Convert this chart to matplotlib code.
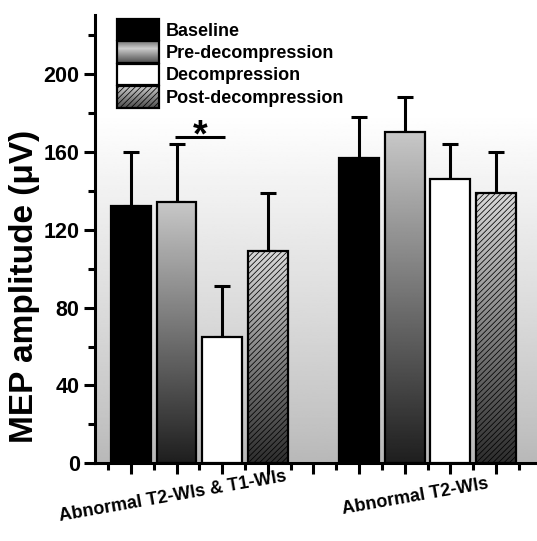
import matplotlib
matplotlib.use('Agg')
import matplotlib.pyplot as plt
import numpy as np
from matplotlib.legend_handler import HandlerBase
from matplotlib.image import BboxImage
from matplotlib.transforms import Bbox, TransformedBbox, blended_transform_factory
from matplotlib.patches import Rectangle
from matplotlib.colors import Normalize
from matplotlib.ticker import MultipleLocator

plt.rcParams['font.family'] = ['Liberation Sans', 'DejaVu Sans']
plt.rcParams['font.weight'] = 'bold'
plt.rcParams['hatch.linewidth'] = 0.55

# ---- data ----
groups = ['Abnormal T2-WIs & T1-WIs', 'Abnormal T2-WIs']
series = ['Baseline', 'Pre-decompression', 'Decompression', 'Post-decompression']
baseline = [132, 157]
baseline_err = [28, 21]
pre = [134, 170]
pre_err = [30, 18]
decomp = [65, 146]
decomp_err = [26, 18]
post = [109, 139]
post_err = [30, 21]
y_ticks = [0, 40, 80, 120, 160, 200]
sig_label = '*'

values = [baseline, pre, decomp, post]
errors = [baseline_err, pre_err, decomp_err, post_err]
styles = ['black', 'grad', 'white', 'gradhatch']

fig = plt.figure(figsize=(5.37, 5.41), dpi=100)
ax = fig.add_axes([95/537, 1-463.3/541, 1-95/537, (463.3-15)/541])
XL = (0.21, 9.9)
YL = (0, 230.3)

# background gradient
yy = np.linspace(0, 1, 256)
t = np.clip(yy/0.78, 0, 1)
bg = (0.72 + 0.28*t**0.85)[:, None]
ax.imshow(bg, extent=(0, 1, 0, 1), transform=ax.transAxes, cmap='gray',
          norm=Normalize(0, 1), aspect='auto', origin='lower', zorder=0,
          interpolation='bilinear')

def grad_arr(top, bottom, n=256):
    return np.linspace(top, bottom, n)[:, None]

width = 0.87
for i, (vals, errs, st) in enumerate(zip(values, errors, styles)):
    xs = np.array([g*5 + i + 1 for g in range(len(groups))], dtype=float)
    vals = np.array(vals, dtype=float)
    if st == 'black':
        ax.bar(xs, vals, width=width, facecolor='black', edgecolor='black', linewidth=1.6, zorder=3)
    elif st == 'white':
        ax.bar(xs, vals, width=width, facecolor='white', edgecolor='black', linewidth=1.6, zorder=3)
    else:
        if st == 'grad':
            arr = grad_arr(0.78, 0.12)
            hatch = None
        else:
            arr = grad_arr(0.85, 0.18)
            hatch = '//////'
        for x, v in zip(xs, vals):
            ax.imshow(arr, extent=(x - width/2, x + width/2, 0, v), cmap='gray',
                      norm=Normalize(0, 1), aspect='auto', origin='upper', zorder=2.5,
                      interpolation='bilinear')
        ax.bar(xs, vals, width=width, facecolor='none', edgecolor='black', linewidth=1.6,
               hatch=hatch, zorder=3)
    ax.errorbar(xs, vals, yerr=[np.zeros_like(vals), np.array(errs, dtype=float)], fmt='none',
                ecolor='black', elinewidth=2.2, capsize=5.5, capthick=2.2, zorder=2)

ax.set_xlim(*XL)
ax.set_ylim(*YL)

# significance
ax.plot([1.96, 3.06], [167.5, 167.5], color='black', lw=2.2, zorder=4, solid_capstyle='butt')
ax.text(2.51, 163.0, sig_label, ha='center', va='baseline', fontsize=27, fontweight='bold', zorder=4)

# axes styling
for s in ['top', 'right']:
    ax.spines[s].set_visible(False)
for s in ['left', 'bottom']:
    ax.spines[s].set_linewidth(2.2)
ax.set_yticks(y_ticks)
ax.yaxis.set_minor_locator(MultipleLocator(20))
ax.set_xticks(range(1, 10))
ax.set_xticklabels([])
ax.xaxis.set_minor_locator(MultipleLocator(0.5))
ax.tick_params(axis='both', which='major', direction='out', length=8, width=2.2)
ax.tick_params(axis='both', which='minor', direction='out', length=5, width=2.2)
ax.tick_params(axis='y', labelsize=15.5, pad=3)
for lab in ax.get_yticklabels():
    lab.set_fontweight('bold')

ax.set_ylabel('MEP amplitude (\u03bcV)', fontsize=24, fontweight='bold')
ax.yaxis.set_label_coords(-0.125, 0.395)

tr = blended_transform_factory(ax.transData, ax.transAxes)
label_x = [1.92, 7.23]
for gx, name in zip(label_x, groups):
    ax.text(gx, -0.075, name, transform=tr, rotation=10, ha='center', va='center',
            rotation_mode='anchor', fontsize=13, fontweight='bold')

# legend
class GradHandler(HandlerBase):
    def __init__(self, arr, hatch=None):
        super().__init__()
        self.arr = arr
        self.hatch = hatch

    def create_artists(self, legend, orig_handle, xdescent, ydescent, width, height, fontsize, trans):
        bb = Bbox.from_bounds(-xdescent, -ydescent, width, height)
        im = BboxImage(TransformedBbox(bb, trans), cmap='gray', norm=Normalize(0, 1),
                       interpolation='bilinear', origin='upper')
        im.set_data(self.arr)
        rect = Rectangle((-xdescent, -ydescent), width, height, facecolor='none',
                         edgecolor='black', lw=1.6, hatch=self.hatch, transform=trans)
        return [im, rect]

h_black = Rectangle((0, 0), 1, 1, facecolor='black', edgecolor='black', lw=1.6)
h_grad = Rectangle((0, 0), 1, 1)
h_white = Rectangle((0, 0), 1, 1, facecolor='white', edgecolor='black', lw=1.6)
h_hatch = Rectangle((0, 0), 1, 1)
leg_grad = np.concatenate([np.linspace(0.45, 0.8, 40), np.linspace(0.8, 0.3, 80)])[:, None]
leg = ax.legend([h_black, h_grad, h_white, h_hatch], series,
                handler_map={h_grad: GradHandler(leg_grad),
                             h_hatch: GradHandler(grad_arr(0.8, 0.3), hatch='//////')},
                loc='upper left', bbox_to_anchor=(0.0498, 0.991), frameon=False,
                handlelength=2.33, handleheight=1.45, labelspacing=0.05,
                handletextpad=0.35, borderpad=0, borderaxespad=0,
                prop={'weight': 'bold', 'size': 13})

fig.savefig('out.png', dpi=100)
